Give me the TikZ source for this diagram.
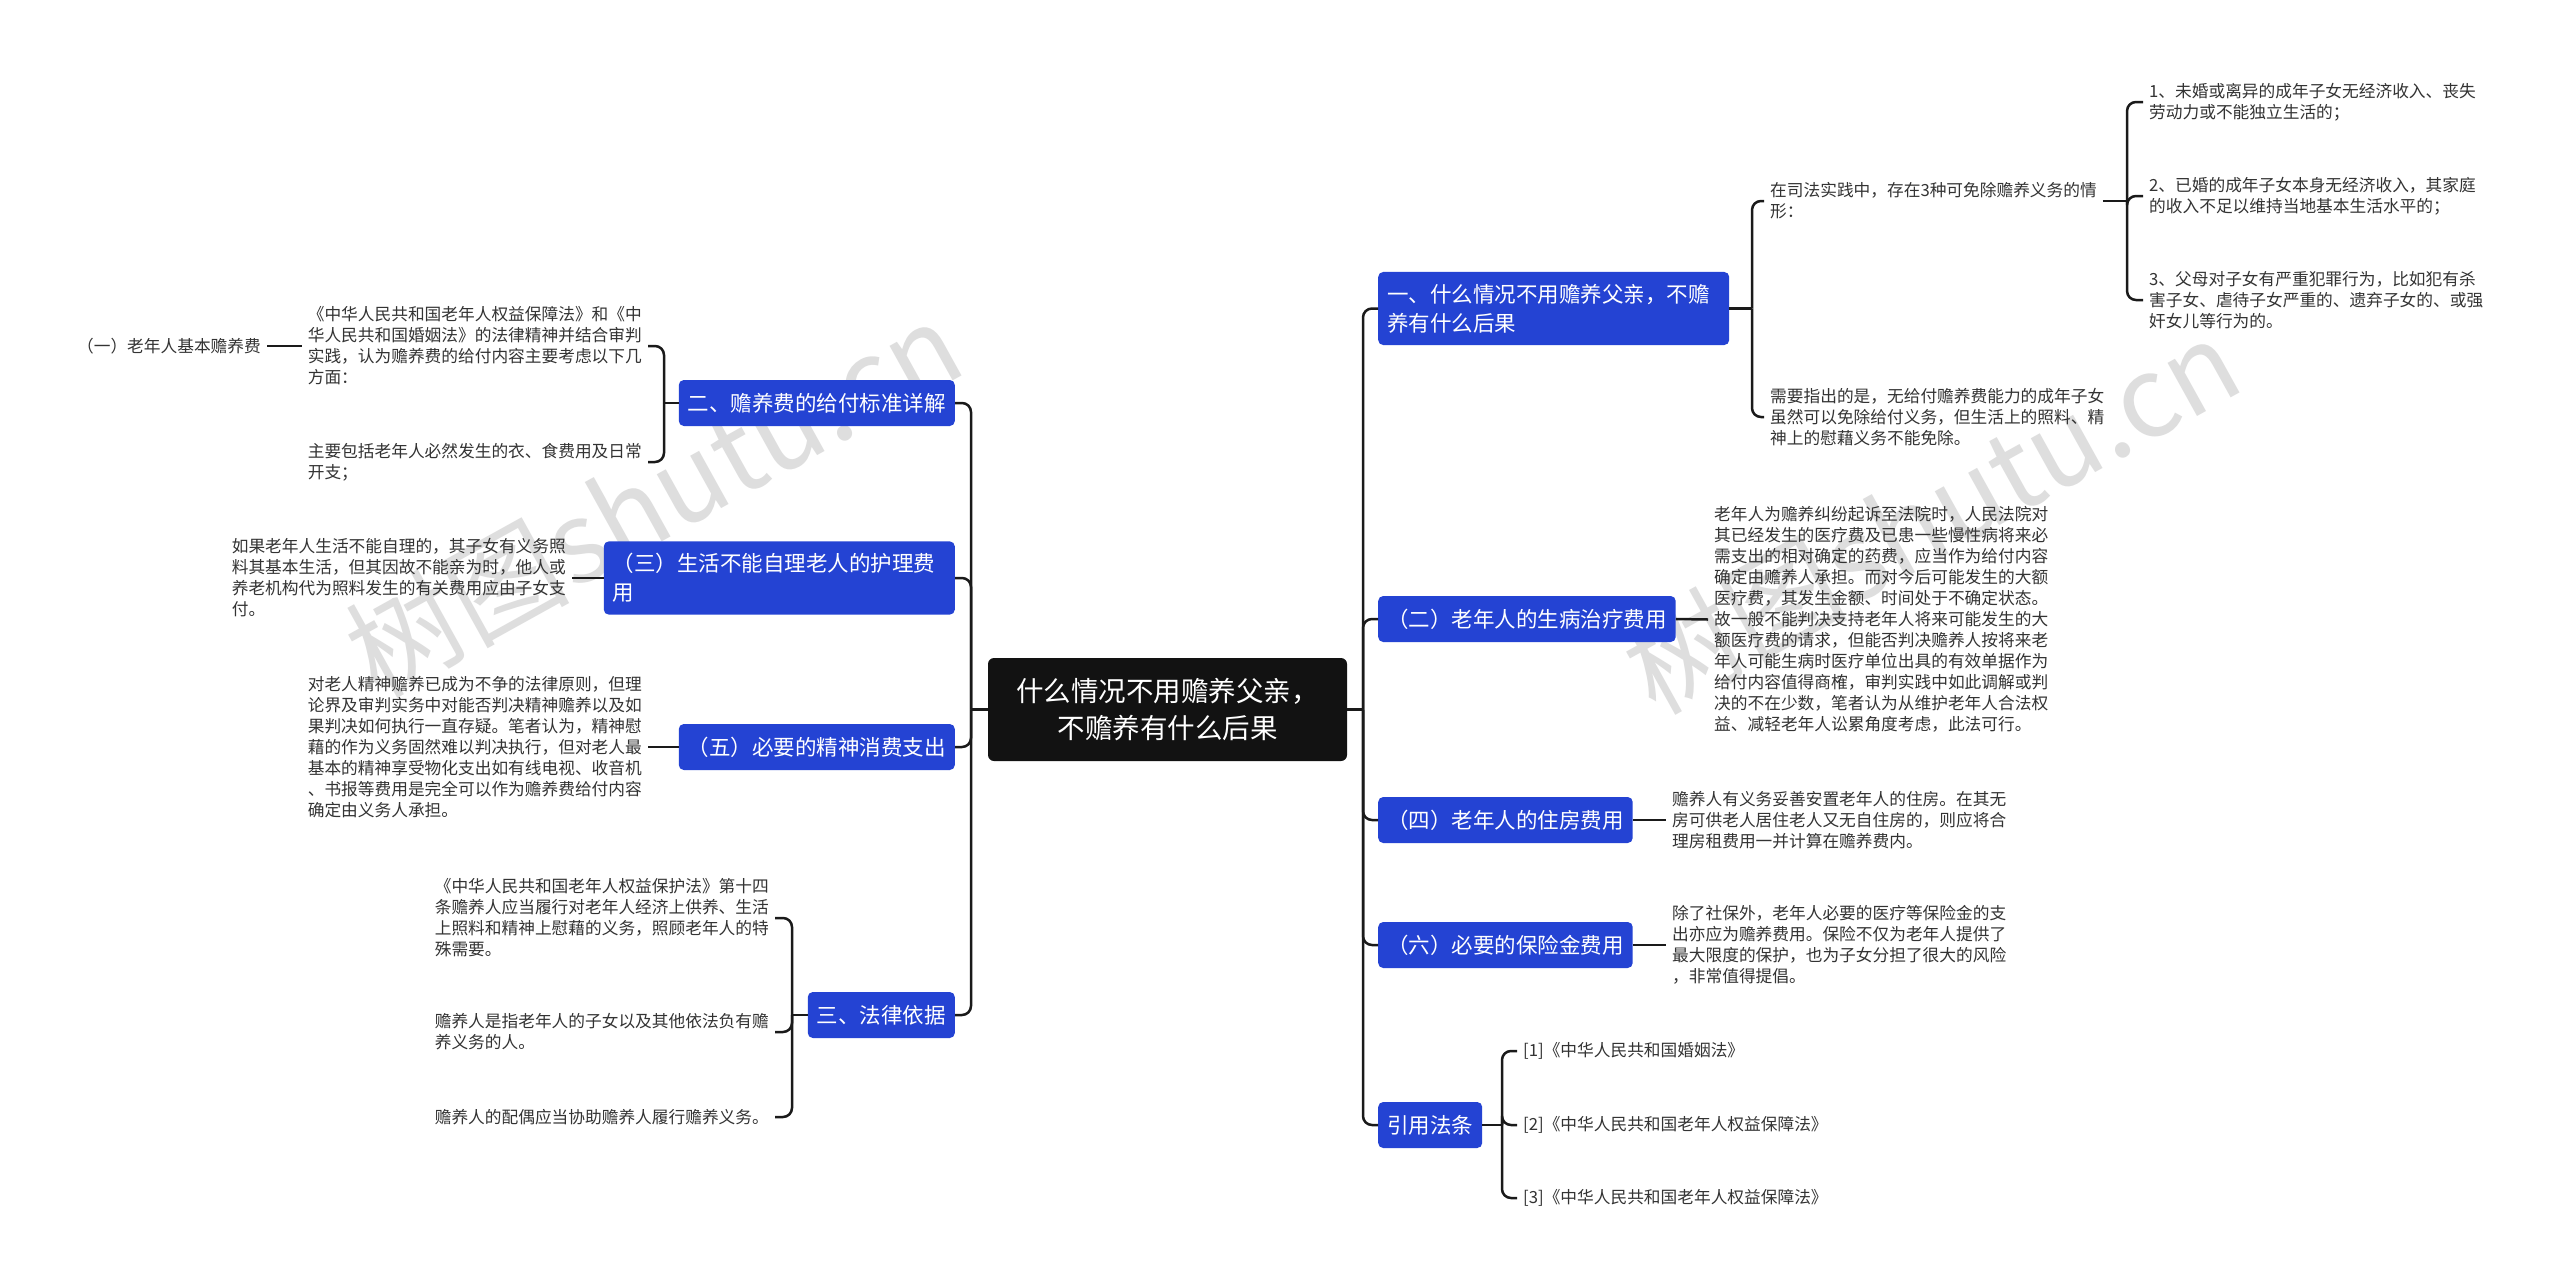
\documentclass[tikz,border=0pt]{standalone}
\usepackage{fontspec}
\setmainfont{Noto Sans CJK SC}
\definecolor{mblue}{HTML}{2443D3}
\definecolor{mline}{HTML}{1A1A1A}
\definecolor{mtext}{HTML}{333333}
\begin{document}
\begin{tikzpicture}[x=1pt,y=-1pt,
  box/.style={fill=mblue, rounded corners=5pt, text=white, font=\fontsize{21.5}{29}\selectfont, inner xsep=9pt, inner ysep=8pt, minimum height=46pt, align=left},
  rootbox/.style={fill=black!93, rounded corners=6pt, text=white, font=\fontsize{27.5}{37}\selectfont, minimum width=359pt, minimum height=103pt, align=center, inner sep=0pt},
  leaf/.style={text=mtext, font=\fontsize{16.7}{21}\selectfont, inner xsep=6pt, inner ysep=2pt, align=left},
  conn/.style={draw=mline, line width=2.5pt, rounded corners=9pt},
  wmark/.style={text=black!13, font=\fontsize{112}{112}\selectfont, rotate=29}]

\fill[white] (0,0) rectangle (2560,1288);
\useasboundingbox (0,0) rectangle (2560,1288);

% watermarks
\node[wmark] (wm1) at (653,498) {树图shutu.cn};
\node[wmark] (wm2) at (1931,515) {树图shutu.cn};

% root
\node[rootbox] (root) at (1167.5,709.5) {什么情况不用赡养父亲，\\不赡养有什么后果};

% right branches
\node[box, anchor=west, text width=333pt, inner ysep=12pt] (b1) at (1378,308.5) {一、什么情况不用赡养父亲，不赡\\养有什么后果};
\node[box, anchor=west] (b2) at (1378,619) {（二）老年人的生病治疗费用};
\node[box, anchor=west] (b3) at (1378,820) {（四）老年人的住房费用};
\node[box, anchor=west] (b4) at (1378,945) {（六）必要的保险金费用};
\node[box, anchor=west] (b5) at (1378,1125) {引用法条};

% left branches
\node[box, anchor=east] (l1) at (955,403) {二、赡养费的给付标准详解};
\node[box, anchor=east, text width=333pt, inner ysep=12pt] (l2) at (955,578) {（三）生活不能自理老人的护理费\\用};
\node[box, anchor=east] (l3) at (955,747) {（五）必要的精神消费支出};
\node[box, anchor=east] (l4) at (955,1015) {三、法律依据};

% right leaves
\node[leaf, anchor=west] (r1a) at (1764,201) {在司法实践中，存在3种可免除赡养义务的情\\形：};
\node[leaf, anchor=west] (r1b) at (1764,417) {需要指出的是，无给付赡养费能力的成年子女\\虽然可以免除给付义务，但生活上的照料、精\\神上的慰藉义务不能免除。};
\node[leaf, anchor=west] (s1) at (2143,102) {1、未婚或离异的成年子女无经济收入、丧失\\劳动力或不能独立生活的；};
\node[leaf, anchor=west] (s2) at (2143,196) {2、已婚的成年子女本身无经济收入，其家庭\\的收入不足以维持当地基本生活水平的；};
\node[leaf, anchor=west] (s3) at (2143,300) {3、父母对子女有严重犯罪行为，比如犯有杀\\害子女、虐待子女严重的、遗弃子女的、或强\\奸女儿等行为的。};
\node[leaf, anchor=west] (r2) at (1708,619.5) {老年人为赡养纠纷起诉至法院时，人民法院对\\其已经发生的医疗费及已患一些慢性病将来必\\需支出的相对确定的药费，应当作为给付内容\\确定由赡养人承担。而对今后可能发生的大额\\医疗费，其发生金额、时间处于不确定状态。\\故一般不能判决支持老年人将来可能发生的大\\额医疗费的请求，但能否判决赡养人按将来老\\年人可能生病时医疗单位出具的有效单据作为\\给付内容值得商榷，审判实践中如此调解或判\\决的不在少数，笔者认为从维护老年人合法权\\益、减轻老年人讼累角度考虑，此法可行。};
\node[leaf, anchor=west] (r3) at (1666,820) {赡养人有义务妥善安置老年人的住房。在其无\\房可供老人居住老人又无自住房的，则应将合\\理房租费用一并计算在赡养费内。};
\node[leaf, anchor=west] (r4) at (1666,945) {除了社保外，老年人必要的医疗等保险金的支\\出亦应为赡养费用。保险不仅为老年人提供了\\最大限度的保护，也为子女分担了很大的风险\\，非常值得提倡。};
\node[leaf, anchor=west] (c1) at (1517,1051) {[1]《中华人民共和国婚姻法》};
\node[leaf, anchor=west] (c2) at (1517,1125) {[2]《中华人民共和国老年人权益保障法》};
\node[leaf, anchor=west] (c3) at (1517,1198) {[3]《中华人民共和国老年人权益保障法》};

% left leaves
\node[leaf, anchor=east] (la1) at (648,346) {《中华人民共和国老年人权益保障法》和《中\\华人民共和国婚姻法》的法律精神并结合审判\\实践，认为赡养费的给付内容主要考虑以下几\\方面：};
\node[leaf, anchor=east] (la2) at (648,462) {主要包括老年人必然发生的衣、食费用及日常\\开支；};
\node[leaf, anchor=east] (la0) at (267,346) {（一）老年人基本赡养费};
\node[leaf, anchor=east] (la3) at (572,578) {如果老年人生活不能自理的，其子女有义务照\\料其基本生活，但其因故不能亲为时，他人或\\养老机构代为照料发生的有关费用应由子女支\\付。};
\node[leaf, anchor=east] (la4) at (648,747) {对老人精神赡养已成为不争的法律原则，但理\\论界及审判实务中对能否判决精神赡养以及如\\果判决如何执行一直存疑。笔者认为，精神慰\\藉的作为义务固然难以判决执行，但对老人最\\基本的精神享受物化支出如有线电视、收音机\\、书报等费用是完全可以作为赡养费给付内容\\确定由义务人承担。};
\node[leaf, anchor=east] (lb1) at (775,918) {《中华人民共和国老年人权益保护法》第十四\\条赡养人应当履行对老年人经济上供养、生活\\上照料和精神上慰藉的义务，照顾老年人的特\\殊需要。};
\node[leaf, anchor=east] (lb2) at (775,1032) {赡养人是指老年人的子女以及其他依法负有赡\\养义务的人。};
\node[leaf, anchor=east] (lb3) at (775,1117) {赡养人的配偶应当协助赡养人履行赡养义务。};

% connectors: root trunks
\coordinate (rt) at (1363,709.5);
\coordinate (lt) at (971,709.5);
\draw[conn] (root.east) -- (rt);
\draw[conn] (root.west) -- (lt);
\foreach \n in {b1,b2,b3,b4,b5} \draw[conn] (rt) |- (\n.west);
\foreach \n in {l1,l2,l3,l4} \draw[conn] (lt) |- (\n.east);

% right side sub-connectors
\coordinate (j1) at (1752,308.5);
\draw[conn] (b1.east) -- (j1);
\draw[conn] (j1) |- (r1a.west);
\draw[conn] (j1) |- (r1b.west);
\coordinate (j2) at (2127,201);
\draw[conn] (r1a.east) -- (j2);
\foreach \n in {s1,s2,s3} \draw[conn] (j2) |- (\n.west);
\draw[conn] (b2.east) -- (r2.west);
\draw[conn] (b3.east) -- (r3.west);
\draw[conn] (b4.east) -- (r4.west);
\coordinate (j3) at (1502,1125);
\draw[conn] (b5.east) -- (j3);
\foreach \n in {c1,c2,c3} \draw[conn] (j3) |- (\n.west);

% left side sub-connectors
\coordinate (j4) at (664,403);
\draw[conn] (l1.west) -- (j4);
\draw[conn] (j4) |- (la1.east);
\draw[conn] (j4) |- (la2.east);
\draw[conn] (la1.west) -- (la0.east);
\draw[conn] (l2.west) -- (la3.east);
\draw[conn] (l3.west) -- (la4.east);
\coordinate (j5) at (792,1015);
\draw[conn] (l4.west) -- (j5);
\foreach \n in {lb1,lb2,lb3} \draw[conn] (j5) |- (\n.east);
\end{tikzpicture}
\end{document}
